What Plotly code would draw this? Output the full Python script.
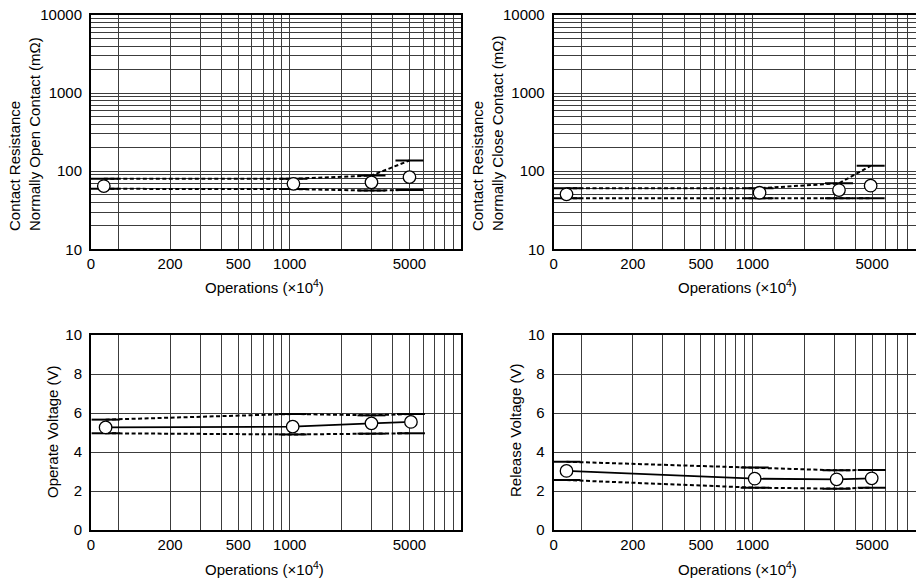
import plotly.graph_objects as go
from plotly.subplots import make_subplots

# Operations (x10^4) at each sample; the first sample is the initial reading ("0")
ops_no = [82, 1050, 3000, 5000]
res_no_mean = [64.5, 69, 72, 84]
res_no_max = [80, 80, 88, 137]
res_no_min = [59.5, 59, 56.5, 57.5]

ops_nc = [82, 1100, 3200, 4900]
res_nc_mean = [50.6, 53, 57.4, 65.2]
res_nc_max = [60.5, 60.5, 70, 117]
res_nc_min = [45, 45, 45, 45]

ops_op = [84, 1040, 3000, 5100]
op_mean = [5.26, 5.3, 5.47, 5.54]
op_max = [5.66, 5.95, 5.88, 5.95]
op_min = [4.96, 4.9, 4.94, 4.96]

ops_rel = [82, 1030, 3100, 4970]
rel_mean = [3.03, 2.63, 2.6, 2.65]
rel_max = [3.5, 3.21, 3.06, 3.08]
rel_min = [2.56, 2.17, 2.12, 2.17]

# axis ticks / grid
x_tick_vals = [69, 100, 200, 300, 400, 500, 600, 700, 800, 900, 1000,
               2000, 3000, 4000, 5000, 6000, 7000, 8000, 9000, 10000]
x_tick_text = ["0", "", "200", "", "", "500", "", "", "", "", "1000",
               "", "", "", "5000", "", "", "", "", ""]
res_tick_vals = [10, 20, 30, 40, 50, 60, 70, 80, 90,
                 100, 200, 300, 400, 500, 600, 700, 800, 900,
                 1000, 2000, 3000, 4000, 5000, 6000, 7000, 8000, 9000, 10000]
res_tick_text = ["10", "", "", "", "", "", "", "", "",
                 "100", "", "", "", "", "", "", "", "",
                 "1000", "", "", "", "", "", "", "", "", "10000"]
volt_tick_vals = [0, 2, 4, 6, 8, 10]

FONT = "Liberation Sans, Arial, Helvetica, sans-serif"
GRID = "#3c3c3c"
DASH = "4px,2.5px"

fig = make_subplots(rows=2, cols=2)


def add_panel(row, col, x, mean, hi, lo, mean_line):
    for ys in (hi, lo):
        fig.add_trace(go.Scatter(x=x, y=ys, mode="lines",
                                 line=dict(color="black", width=2, dash=DASH)),
                      row=row, col=col)
    if mean_line:
        fig.add_trace(go.Scatter(x=x, y=mean, mode="lines",
                                 line=dict(color="black", width=1.8)),
                      row=row, col=col)
    for ys in (hi, lo):
        fig.add_trace(go.Scatter(x=x, y=ys, mode="markers",
                                 marker=dict(symbol="line-ew", size=20,
                                             line=dict(color="black", width=2))),
                      row=row, col=col)
    fig.add_trace(go.Scatter(x=x, y=mean, mode="markers",
                             marker=dict(symbol="circle", size=12.5, color="white",
                                         line=dict(color="black", width=1.3))),
                  row=row, col=col)


add_panel(1, 1, ops_no, res_no_mean, res_no_max, res_no_min, False)
add_panel(1, 2, ops_nc, res_nc_mean, res_nc_max, res_nc_min, False)
add_panel(2, 1, ops_op, op_mean, op_max, op_min, True)
add_panel(2, 2, ops_rel, rel_mean, rel_max, rel_min, True)

W, H = 916, 580
left_dom = [91 / W, 461 / W]
right_dom = [553.7 / W, 1.0]   # right panels are cut by the page edge
top_dom = [1 - 249.3 / H, 1 - 15 / H]
bot_dom = [1 - 530 / H, 1 - 335 / H]

xcommon = dict(type="log", tickvals=x_tick_vals, ticktext=x_tick_text,
               showgrid=True, gridcolor=GRID, gridwidth=1, zeroline=False,
               showline=True, linecolor="black", linewidth=2, mirror=True,
               automargin=False, ticks="",
               tickfont=dict(family=FONT, size=15, color="black"))
fig.update_xaxes(**xcommon)
fig.update_xaxes(domain=left_dom, range=[1.839, 4.0], col=1)
fig.update_xaxes(domain=right_dom, range=[1.839, 3.955], col=2)

ycommon = dict(showgrid=True, gridcolor=GRID, gridwidth=1, zeroline=False,
               showline=True, linecolor="black", linewidth=2, ticks="",
               automargin=False, ticklabelstandoff=4,
               tickfont=dict(family=FONT, size=15, color="black"))
fig.update_yaxes(**ycommon)
fig.update_yaxes(type="log", range=[1, 4], tickvals=res_tick_vals,
                 ticktext=res_tick_text, domain=top_dom, row=1)
fig.update_yaxes(range=[0, 10], tickvals=volt_tick_vals, domain=bot_dom, row=2)
fig.update_yaxes(mirror=True, col=1)
fig.update_yaxes(mirror=False, col=2)

# axis titles (pixel positions)
x_title = "Operations (\u00d710<sup>4</sup>)"
titles = [
    (264, 287, x_title, 0, "center"),
    (737.5, 287, x_title, 0, "center"),
    (264, 568, x_title, 0, "center"),
    (737.5, 568, x_title, 0, "center"),
    (24, 134, "Contact Resistance<br>Normally Open Contact (m\u03a9)", -90, "left"),
    (487, 134, "Contact Resistance<br>Normally Close Contact (m\u03a9)", -90, "left"),
    (52, 432, "Operate Voltage (V)", -90, "center"),
    (515, 431, "Release Voltage (V)", -90, "center"),
]
for px, py, text, ang, al in titles:
    fig.add_annotation(text=text, x=px / W, y=1 - py / H,
                       xref="paper", yref="paper",
                       xanchor="center", yanchor="middle", showarrow=False,
                       textangle=ang, align=al,
                       font=dict(family=FONT, size=15, color="black"))

fig.update_layout(
    width=W, height=H,
    margin=dict(l=0, r=0, t=0, b=0),
    paper_bgcolor="white", plot_bgcolor="white",
    showlegend=False,
    font=dict(family=FONT, size=15, color="black"),
)

# drop the default page margin so the figure sits at the window's corner
fig.write_html("out.html",
               config={"displayModeBar": False},
               post_script="document.body.style.margin='0';"
                           "document.body.style.overflow='hidden';")
